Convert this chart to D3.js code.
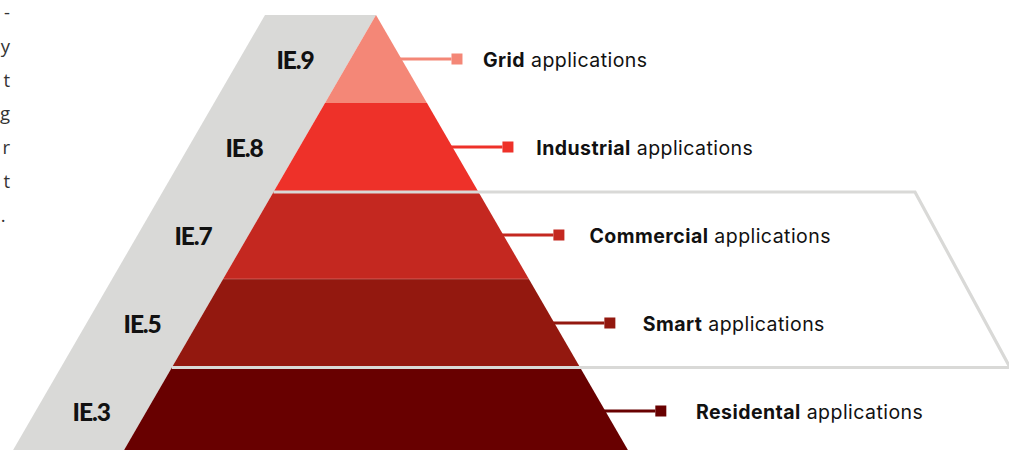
<!DOCTYPE html>
<html><head><meta charset="utf-8">
<script src="https://cdn.jsdelivr.net/npm/d3@7"></script>
<style>body{margin:0;background:#fff}svg{display:block}</style>
</head><body>
<svg id="chart" width="1009" height="450"></svg>
<script>
// ---- data (top tier first) ----
const levels = ["IE.9", "IE.8", "IE.7", "IE.5", "IE.3"];
const categories = ["Grid", "Industrial", "Commercial", "Smart", "Residental"];
const suffix = "applications";
const colors = ["#F48777", "#EE3129", "#C42820", "#93180F", "#680000"];
const highlightTiers = [2, 3];   // Commercial + Smart grouped by the outline
// visible line endings of the paragraph cropped at the left edge
const introTails = ["-", "y", "t", "g", "r", "t", "."];

const W = 1009, H = 450;
const svg = d3.select("#chart");
const cx = 376, bandShift = 111;
const y = d3.scaleLinear().domain([0, levels.length]).range([15, 455]);
const half = d3.scaleLinear().domain([15, 455]).range([0, 254.8]);
const gray = "#D9D9D7";

// paragraph tails at left edge
svg.append("g").selectAll("text").data(introTails).join("text")
  .attr("x", (d, i) => i === introTails.length - 1 ? 5.5 : 10)
  .attr("y", (d, i) => 19 + i * 33.8)
  .attr("text-anchor", "end")
  .attr("font-family", "'Open Sans', sans-serif")
  .attr("font-size", 18.5)
  .attr("fill", "#333")
  .text(d => d);

// gray level band (parallelogram behind pyramid)
const yB = y(levels.length);
svg.append("polygon")
  .attr("points", [[cx - bandShift, y(0)], [cx, y(0)], [cx - half(yB), yB], [cx - bandShift - half(yB), yB]].join(" "))
  .attr("fill", gray);

// pyramid tiers
const tiers = svg.append("g");
categories.forEach((c, i) => {
  const y0 = y(i), y1 = y(i + 1);
  tiers.append("polygon")
    .attr("points", [[cx - half(y0), y0], [cx + half(y0), y0], [cx + half(y1), y1], [cx - half(y1), y1]].join(" "))
    .attr("fill", colors[i]);
});
// faint seam between Commercial and Smart
svg.append("line")
  .attr("x1", cx - half(y(3))).attr("x2", cx + half(y(3)))
  .attr("y1", y(3)).attr("y2", y(3))
  .attr("stroke", "#ffffff").attr("stroke-opacity", 0.25).attr("stroke-width", 1);

// outline grouping
const yt = y(highlightTiers[0]) + 1, yb = y(highlightTiers[1] + 1) + 0.5;
svg.append("path")
  .attr("d", `M${cx - half(yt)},${yt} L${W - 94},${yt} L${W + 1},${yb} L${cx - half(yb)},${yb}`)
  .attr("fill", "none").attr("stroke", gray).attr("stroke-width", 3.2);

// level labels
svg.append("g").selectAll("text").data(levels).join("text")
  .attr("x", (d, i) => { const m = (y(i) + y(i + 1)) / 2; return cx - bandShift / 2 - half(m); })
  .attr("y", (d, i) => (y(i) + y(i + 1)) / 2 + 1.5)
  .attr("dy", "0.36em")
  .attr("text-anchor", "middle")
  .attr("font-family", "Lato, sans-serif")
  .attr("font-weight", 900)
  .attr("font-size", 24.5)
  .attr("letter-spacing", -1.1)
  .attr("fill", "#111")
  .text(d => d);

// connectors + labels
const firstEdge = cx + half((y(0) + y(1)) / 2);
categories.forEach((c, i) => {
  const m = (y(i) + y(i + 1)) / 2;
  const edge = cx + half(m);
  svg.append("line")
    .attr("x1", edge - 3).attr("x2", edge + 50)
    .attr("y1", m).attr("y2", m)
    .attr("stroke", colors[i]).attr("stroke-width", 3);
  svg.append("rect")
    .attr("x", edge + 50).attr("y", m - 5.5)
    .attr("width", 11).attr("height", 11)
    .attr("fill", colors[i]);
  const t = svg.append("text")
    .attr("x", firstEdge + 81.5 + (edge - firstEdge) * 1.045)
    .attr("y", m + 1.5).attr("dy", "0.35em")
    .attr("font-family", "Inter, sans-serif")
    .attr("font-size", 19.5)
    .attr("letter-spacing", 0.45)
    .attr("fill", "#111");
  t.append("tspan").attr("font-weight", 700).text(c);
  t.append("tspan").text(" " + suffix);
});
</script>
</body></html>
